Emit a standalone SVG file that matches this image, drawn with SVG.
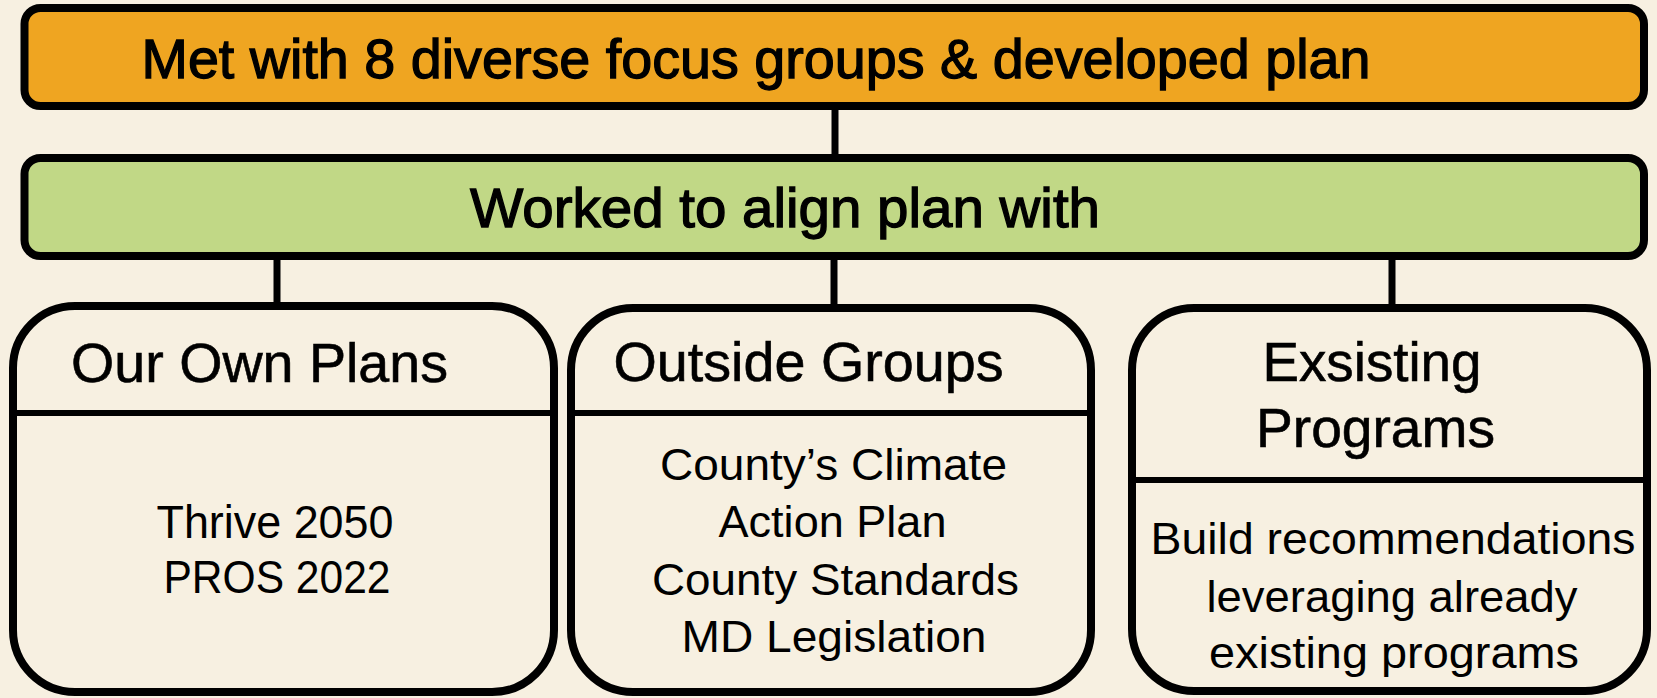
<svg xmlns="http://www.w3.org/2000/svg" width="1657" height="698" viewBox="0 0 1657 698">
<style>
.bg{fill:#F7F0E1}
.bar{stroke:#000;stroke-width:8}
.card{fill:#F7F0E1;stroke:#000;stroke-width:8}
.div{stroke:#000;stroke-width:6}
.con{stroke:#000;stroke-width:7;fill:none}
text{font-family:"Liberation Sans",Arial,Helvetica,sans-serif;fill:#000}
.big{font-size:56px;stroke:#000;stroke-width:1.3}
.hd{font-size:56px;stroke:#000;stroke-width:0.6}
.bd{font-size:44px}
.bdl{font-size:47px}
</style>
<rect class="bg" x="0" y="0" width="1657" height="698"/>
<g id="connectors">
<line class="con" x1="835" y1="106" x2="835" y2="158"/>
<line class="con" x1="277" y1="256" x2="277" y2="306"/>
<line class="con" x1="834" y1="256" x2="834" y2="308"/>
<line class="con" x1="1392" y1="256" x2="1392" y2="308"/>
</g>
<g id="top">
<rect class="bar" x="24.5" y="8" width="1619.5" height="98" rx="16" fill="#EFA521"/>
<text class="big" x="141.5" y="77.5" textLength="1229" lengthAdjust="spacingAndGlyphs">Met with 8 diverse focus groups &amp; developed plan</text>
</g>
<g id="align">
<rect class="bar" x="24.5" y="158" width="1619.5" height="98" rx="16" fill="#C1D886"/>
<text class="big" x="470" y="226.5" textLength="630" lengthAdjust="spacingAndGlyphs">Worked to align plan with</text>
</g>
<g id="own-plans">
<rect class="card" x="13" y="306" width="541" height="386" rx="62"/>
<line class="div" x1="13" y1="413" x2="554" y2="413"/>
<text class="hd" x="71" y="381.5" textLength="377" lengthAdjust="spacingAndGlyphs">Our Own Plans</text>
<text class="bdl" x="275" y="538" text-anchor="middle" textLength="237" lengthAdjust="spacingAndGlyphs">Thrive 2050</text>
<text class="bdl" x="277" y="593" text-anchor="middle" textLength="227" lengthAdjust="spacingAndGlyphs">PROS 2022</text>
</g>
<g id="outside-groups">
<rect class="card" x="571" y="308" width="520" height="384" rx="62"/>
<line class="div" x1="571" y1="413" x2="1091" y2="413"/>
<text class="hd" x="613.5" y="380.7" textLength="390" lengthAdjust="spacingAndGlyphs">Outside Groups</text>
<text class="bd" x="833.5" y="480" text-anchor="middle" textLength="347" lengthAdjust="spacingAndGlyphs">County’s Climate</text>
<text class="bd" x="832.5" y="536.7" text-anchor="middle" textLength="228" lengthAdjust="spacingAndGlyphs">Action Plan</text>
<text class="bd" x="835.5" y="595" text-anchor="middle" textLength="367" lengthAdjust="spacingAndGlyphs">County Standards</text>
<text class="bd" x="834" y="651.7" text-anchor="middle" textLength="305" lengthAdjust="spacingAndGlyphs">MD Legislation</text>
</g>
<g id="existing-programs">
<rect class="card" x="1132" y="308" width="515" height="383" rx="62"/>
<line class="div" x1="1132" y1="480" x2="1647" y2="480"/>
<text class="hd" x="1372" y="380.7" text-anchor="middle" textLength="219" lengthAdjust="spacingAndGlyphs">Exsisting</text>
<text class="hd" x="1375.5" y="446.7" text-anchor="middle" textLength="239" lengthAdjust="spacingAndGlyphs">Programs</text>
<text class="bd" x="1393" y="554" text-anchor="middle" textLength="485" lengthAdjust="spacingAndGlyphs">Build recommendations</text>
<text class="bd" x="1392" y="611.7" text-anchor="middle" textLength="371" lengthAdjust="spacingAndGlyphs">leveraging already</text>
<text class="bd" x="1394" y="668" text-anchor="middle" textLength="370" lengthAdjust="spacingAndGlyphs">existing programs</text>
</g>
</svg>
